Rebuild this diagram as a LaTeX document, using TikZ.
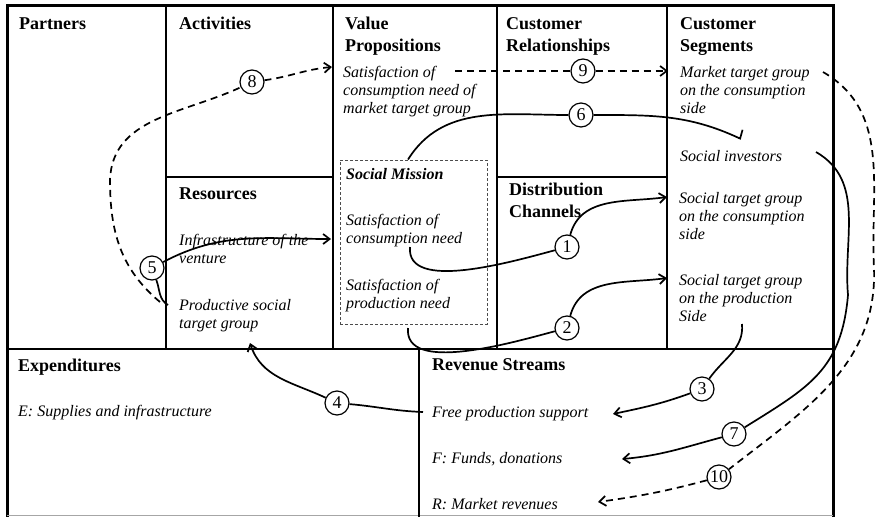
\documentclass[tikz,border=0pt]{standalone}
\usepackage{fontspec}
\setmainfont{Liberation Serif}
\usetikzlibrary{arrows.meta}
\begin{document}
\begin{tikzpicture}[x=1pt,y=1pt,
  frame/.style={line width=3pt, line join=miter},
  grid/.style={line width=1.4pt},
  head/.style={anchor=north west, inner sep=0pt, align=left,
    font=\fontsize{18}{22.5}\selectfont\bfseries},
  body/.style={anchor=north west, inner sep=0pt, align=left,
    font=\fontsize{16}{18}\selectfont\itshape},
  missionbox/.style={draw=black!70, line width=0.9pt, dash pattern=on 3pt off 2pt,
    minimum width=147pt, minimum height=164pt, inner sep=0pt},
  num/.style={circle, draw, line width=1.2pt, fill=white, minimum size=24pt,
    inner sep=0pt, font=\fontsize{18}{18}\selectfont},
  flow/.style={line width=1.7pt, -{Straight Barb[length=6.5pt,width=10pt]}},
  dflow/.style={flow, dash pattern=on 7pt off 5pt},
  halfbarb/.style={line width=1.7pt, -{Straight Barb[left,length=1.5pt,width=18pt]}},
]
\useasboundingbox (0,0) rectangle (876,-517);

% canvas grid
\draw[frame] (7,-517) -- (7,-5) -- (833,-5) -- (833,-517);
\draw[line width=0.8pt, black!35] (7,-515) -- (833,-515);
\draw[grid] (7,-349) -- (833,-349);
\draw[grid] (166,-5) -- (166,-349);
\draw[grid] (333,-5) -- (333,-349);
\draw[grid] (497,-5) -- (497,-349);
\draw[grid] (667,-5) -- (667,-349);
\draw[grid] (166,-177) -- (333,-177);
\draw[grid] (497,-177) -- (667,-177);
\draw[grid] (419,-349) -- (419,-517);

% block headings
\node[head] (partners) at (19,-13.25) {\strut Partners};
\node[head] (activities) at (179,-13.25) {\strut Activities};
\node[head] (value) at (345,-13.25) {\strut Value\\Propositions};
\node[head] (relations) at (506,-13.25) {\strut Customer\\Relationships};
\node[head] (segments) at (680,-13.25) {\strut Customer\\Segments};
\node[head] (resources) at (179,-183.25) {\strut Resources};
\node[head] (channels) at (509,-179.25) {\strut Distribution\\Channels};
\node[head] (expend) at (18,-355.25) {\strut Expenditures};
\node[head] (revenue) at (432,-354.25) {\strut Revenue Streams};

% social mission box
\node[missionbox] (mission) at (413.5,-242) {};

% block contents
\node[body] (vpmarket) at (343,-64.4) {\strut Satisfaction of\\consumption need of\\market target group};
\node[body] (market) at (680,-64.4) {\strut Market target group\\on the consumption\\side};
\node[body] (investors) at (680,-148.4) {\strut Social investors};
\node[body] (infra) at (179,-232.4) {\strut Infrastructure of the\\venture};
\node[body] (prodgroup) at (179,-297.4) {\strut Productive social\\target group};
\node[body, font=\fontsize{16}{18}\selectfont\bfseries\itshape] (missiontitle) at (346,-166.4) {\strut Social Mission};
\node[body] (consneed) at (346,-212.4) {\strut Satisfaction of\\consumption need};
\node[body] (prodneed) at (346,-277.4) {\strut Satisfaction of\\production need};
\node[body] (socialcons) at (679,-190.4) {\strut Social target group\\on the consumption\\side};
\node[body] (socialprod) at (679,-272.4) {\strut Social target group\\on the production\\Side};
\node[body] (supplies) at (18,-403.4) {\strut E: Supplies and infrastructure};
\node[body] (support) at (432,-404.4) {\strut Free production support};
\node[body] (funds) at (432,-450.4) {\strut F: Funds, donations};
\node[body] (market-rev) at (432,-496.4) {\strut R: Market revenues};

% numbered markers
\node[num] (n1) at (567,-247) {1};
\node[num] (n2) at (567,-328) {2};
\node[num] (n3) at (702,-389) {3};
\node[num] (n4) at (337,-403) {4};
\node[num] (n5) at (152,-268) {5};
\node[num] (n6) at (581,-115) {6};
\node[num] (n7) at (734,-434) {7};
\node[num] (n8) at (252,-82) {8};
\node[num] (n9) at (583,-71) {9};
\node[num] (n10) at (719,-477) {10};

% connector ends
\coordinate (s1) at (410,-247);
\coordinate (e1) at (667,-197);
\coordinate (s2) at (408,-328);
\coordinate (e2) at (667,-278);
\coordinate (s3) at (742,-324);
\coordinate (e3) at (613,-414);
\coordinate (s4) at (423,-412);
\coordinate (e4) at (250,-343);
\coordinate (s5) at (168,-305);
\coordinate (e5) at (331,-239);
\coordinate (s6) at ([xshift=-5.5pt]mission.north);
\coordinate (e6) at (741,-139);
\coordinate (s7) at (816,-152);
\coordinate (m7) at (848,-295);
\coordinate (e7) at (622,-459);
\coordinate (s8) at (160,-302);
\coordinate (m8) at (110,-180);
\coordinate (e8) at (332,-67);
\coordinate (s9) at (455,-71);
\coordinate (e9) at (668,-71);
\coordinate (s10) at (823,-72);
\coordinate (m10) at (874,-268);
\coordinate (e10) at (598,-502);

% connectors
\draw[flow] (s1) to[out=-95,in=195,looseness=0.8] (n1) to[out=75,in=188] (e1);
\draw[flow] (s2) to[out=-95,in=195,looseness=0.8] (n2) to[out=75,in=188] (e2);
\draw[flow] (s3) to[out=-85,in=55] (n3) to[out=200,in=12] (e3);
\draw[flow] (s4) to[out=178,in=-5] (n4) to[out=155,in=-72] (e4);
\draw[flow] (s5) to[out=150,in=-70] (n5) to[out=28,in=180] (e5);
\draw[halfbarb] (s6) to[out=58,in=180] (n6) to[out=0,in=155] (e6);
\draw[flow] (s7) to[out=-30,in=95] (m7) to[out=-95,in=32,looseness=1.15] (n7) to[out=195,in=5] (e7);
\draw[dflow] (s8) to[out=140,in=-90] (m8) to[out=88,in=205] (n8) to[out=8,in=185] (e8);
\draw[dflow] (s9) -- (n9) -- (e9);
\draw[dflow] (s10) to[out=-30,in=93] (m10) to[out=-88,in=38] (n10) to[out=195,in=8] (e10);
\end{tikzpicture}
\end{document}
